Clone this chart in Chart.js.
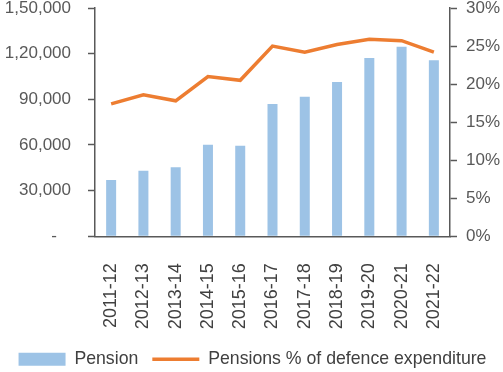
<!DOCTYPE html>
<html>
<head>
<meta charset="utf-8">
<script src="https://cdn.jsdelivr.net/npm/chart.js@4/dist/chart.umd.min.js"></script>
<style>
  html, body { margin: 0; padding: 0; background: #fff; }
  #wrap { width: 503px; height: 372px; }
</style>
</head>
<body>
<div id="wrap"><canvas id="pensionChart"></canvas></div>
<script>
const years = ["2011-12", "2012-13", "2013-14", "2014-15", "2015-16", "2016-17",
  "2017-18", "2018-19", "2019-20", "2020-21", "2021-22"];
const pension = [37000, 43000, 45300, 60200, 59500, 87000, 91700, 101300, 117200, 124600, 115700];
const pensionShare = [17.4, 18.6, 17.8, 21.0, 20.5, 25.0, 24.2, 25.2, 25.9, 25.7, 24.2];
const leftTicks = [0, 30000, 60000, 90000, 120000, 150000];
const rightTicks = [0, 5, 10, 15, 20, 25, 30];

// indian digit grouping, excel style dash for zero
function indianFormat(v) {
  if (v === 0) return "-   ";
  let s = String(Math.round(v));
  let last3 = s.slice(-3);
  let rest = s.slice(0, -3);
  if (rest) last3 = "," + last3;
  rest = rest.replace(/\B(?=(\d{2})+(?!\d))/g, ",");
  return rest + last3;
}

// keep the plot top tight like the excel original
function tightTop(scale) {
  scale.paddingTop = 8;
  scale.paddingBottom = 0;
}

const textColor = "#595959";
const axisColor = "#595959";
Chart.defaults.font.family = "'Liberation Sans', Arial, sans-serif";
Chart.defaults.font.size = 17;
Chart.defaults.color = textColor;

const ctx = document.getElementById("pensionChart").getContext("2d");
new Chart(ctx, {
  type: "bar",
  data: {
    labels: years,
    datasets: [
      {
        label: "Pension",
        data: pension,
        yAxisID: "y",
        backgroundColor: "#9DC3E6",
        pointStyle: "rect",
        categoryPercentage: 1,
        barPercentage: 0.31,
      },
      {
        label: "Pensions % of defence expenditure",
        type: "line",
        data: pensionShare,
        yAxisID: "y1",
        borderColor: "#ED7D31",
        backgroundColor: "#ED7D31",
        borderWidth: 3.5,
        pointRadius: 0,
        pointStyle: "line",
        tension: 0,
      },
    ],
  },
  options: {
    responsive: true,
    maintainAspectRatio: false,
    animation: false,
    layout: { padding: { left: -3, right: -5, top: 0, bottom: -6 } },
    plugins: {
      tooltip: { enabled: false },
      legend: {
        position: "bottom",
        labels: {
          usePointStyle: true,
          pointStyleWidth: 47,
          boxHeight: 13,
          padding: 14,
          color: "#404040",
          font: { size: 17.7 },
        },
      },
    },
    scales: {
      x: {
        grid: { display: false },
        border: { display: true, color: axisColor, width: 1.5 },
        ticks: { minRotation: 90, maxRotation: 90, padding: 19, color: "#404040", font: { size: 18 } },
        afterFit: (s) => { s.height = 100; },
      },
      y: {
        position: "left",
        min: 0,
        max: 150000,
        afterBuildTicks: (axis) => { axis.ticks = leftTicks.map((v) => ({ value: v })); },
        afterFit: (s) => { tightTop(s); s.width = 98; },
        grid: { drawOnChartArea: false, tickLength: 7, color: axisColor, tickWidth: 1.5 },
        border: { display: true, color: axisColor, width: 1.5 },
        ticks: { padding: 17, callback: (v) => indianFormat(v) },
      },
      y1: {
        position: "right",
        min: 0,
        max: 30,
        afterBuildTicks: (axis) => { axis.ticks = rightTicks.map((v) => ({ value: v })); },
        afterFit: (s) => { tightTop(s); s.width = 58; },
        grid: { drawOnChartArea: false, tickLength: 7, color: axisColor, tickWidth: 1.5 },
        border: { display: true, color: axisColor, width: 1.5 },
        ticks: { padding: 9, callback: (v) => v + "%" },
      },
    },
  },
});
</script>
</body>
</html>
